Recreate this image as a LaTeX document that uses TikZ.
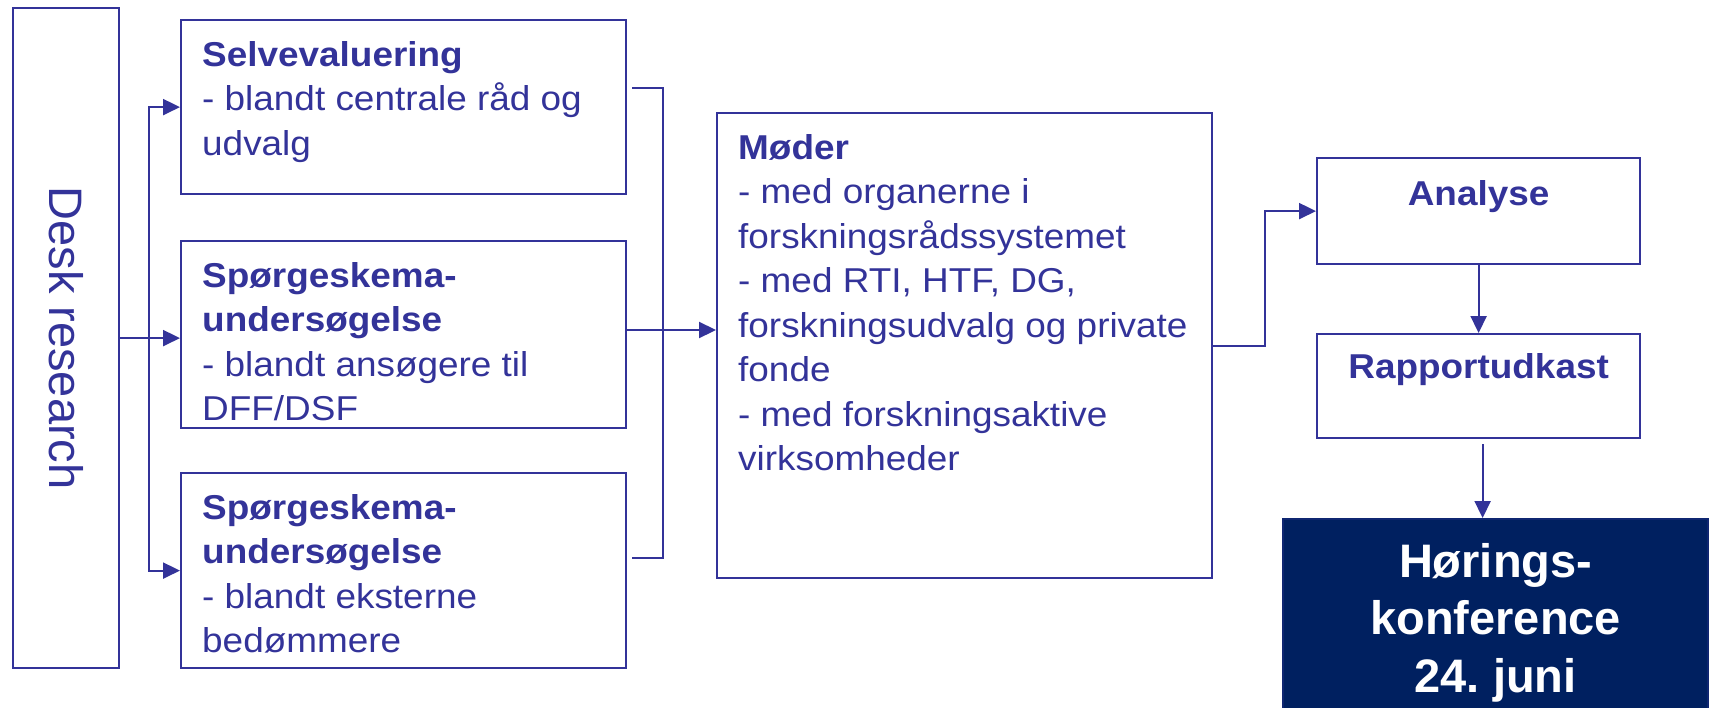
\documentclass[tikz,border=0pt]{standalone}
\usepackage{fontspec}
\setmainfont{Liberation Sans}
\newfontfamily\wideface{Liberation Sans}[FakeStretch=1.07]
\usetikzlibrary{arrows.meta}
\definecolor{boxblue}{RGB}{51,51,153}
\definecolor{navy}{RGB}{0,32,96}
\newcommand{\leftlines}[1]{\parbox[t]{470pt}{\raggedright #1}}
\newcommand{\midlines}[1]{\parbox[t]{420pt}{\centering #1}}
\frenchspacing

\begin{document}
\begin{tikzpicture}[x=1pt, y=-1pt]
\tikzstyle{every node} = [inner sep=0pt, text=boxblue]
\tikzstyle{box} = [draw=boxblue, line width=2.2pt, anchor=north west]
\tikzstyle{body} = [font=\wideface\fontsize{34.5}{44.5}\selectfont, anchor=base west]
\tikzstyle{head} = [font=\wideface\bfseries\fontsize{34.5}{44.5}\selectfont, anchor=base]
\tikzstyle{wire} = [draw=boxblue, line width=2.2pt]
\tikzstyle{arr} = [wire, -{Triangle[length=17pt,width=16pt]}]
\useasboundingbox (0,0) rectangle (1712,707);

% boxes
\node[box, minimum width=106pt, minimum height=660pt] (desk) at (12,7) {};
\node[box, minimum width=445pt, minimum height=174pt] (selv) at (180,19) {};
\node[box, minimum width=445pt, minimum height=187pt] (spg1) at (180,240) {};
\node[box, minimum width=445pt, minimum height=195pt] (spg2) at (180,472) {};
\node[box, minimum width=495pt, minimum height=465pt] (moeder) at (716,112) {};
\node[box, minimum width=323pt, minimum height=106pt] (analyse) at (1316,157) {};
\node[box, minimum width=323pt, minimum height=104pt] (rapport) at (1316,333) {};
\node[box, draw=navy!70!boxblue, fill=navy, minimum width=425pt, minimum height=200pt] (hoering) at (1282,518) {};

% texts
\node[rotate=-90, font=\fontsize{47}{56}\selectfont] (desktxt) at (desk.center) {Desk research};
\node[body] (selvtxt) at ([shift={(22,47)}]selv.north west)
  {\leftlines{\textbf{Selvevaluering}\\- blandt centrale råd og\\udvalg}};
\node[body] (spg1txt) at ([shift={(22,47)}]spg1.north west)
  {\leftlines{\textbf{Spørgeskema-}\\\textbf{undersøgelse}\\- blandt ansøgere til\\DFF/DSF}};
\node[body] (spg2txt) at ([shift={(22,47)}]spg2.north west)
  {\leftlines{\textbf{Spørgeskema-}\\\textbf{undersøgelse}\\- blandt eksterne\\bedømmere}};
\node[body] (moedertxt) at ([shift={(22,47)}]moeder.north west)
  {\leftlines{\textbf{Møder}\\- med organerne i\\forskningsrådssystemet\\- med RTI, HTF, DG,\\forskningsudvalg og private\\fonde\\- med forskningsaktive\\virksomheder}};
\node[head] (analysetxt) at ([yshift=-48pt]analyse.north) {Analyse};
\node[head] (rapporttxt) at ([yshift=-45pt]rapport.north) {Rapportudkast};
\node[anchor=base, text=white, font=\bfseries\fontsize{47}{57.5}\selectfont] (hoeringtxt)
  at ([yshift=-59pt]hoering.north) {\midlines{Hørings-\\konference\\24. juni}};

% connectors
\coordinate (fork) at (149,337);
\coordinate (selvout) at (632,88);
\coordinate (spg2out) at (632,558);
\coordinate (join) at (663,330);
\coordinate (rapout) at ([shift={(4,5)}]rapport.south);

\draw[arr] (desk.east) -- (desk.east -| spg1.west); %desk to survey
\draw[arr] (fork) |- (selv.west); %up to self evaluation
\draw[arr] (fork) |- (spg2.west); %down to second survey
\draw[wire] (selvout) -| (join) |- (spg2out); %bracket
\draw[arr] (spg1.east |- join) -- (join -| moeder.west); %into meetings
\draw[arr] (moeder.east) -- ++(52,0) |- (analyse.west); %meetings to analysis
\draw[arr] (analyse.south) -- (rapport.north);
\draw[arr] (rapout) -- (rapout |- hoering.north);
\end{tikzpicture}
\end{document}
